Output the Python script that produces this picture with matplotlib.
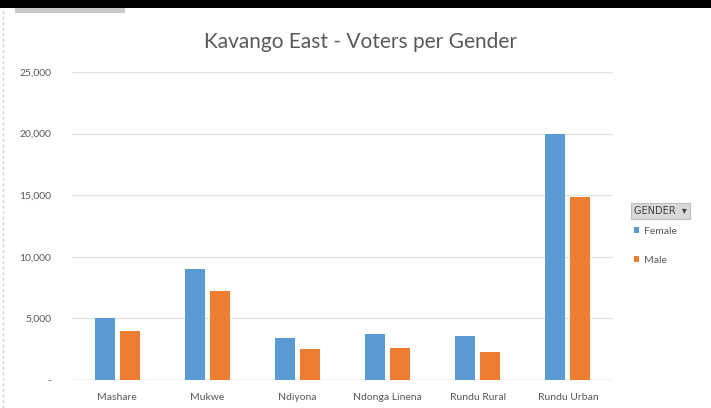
import matplotlib
matplotlib.use("Agg")
import matplotlib.pyplot as plt
import numpy as np
from matplotlib.patches import Rectangle

categories = ["Mashare", "Mukwe", "Ndiyona", "Ndonga Linena", "Rundu Rural", "Rundu Urban"]
female = [5050, 9050, 3430, 3750, 3570, 19950]
male = [3970, 7210, 2490, 2620, 2290, 14850]
yticks = [0, 5000, 10000, 15000, 20000, 25000]
ytick_labels = ["-", "5,000", "10,000", "15,000", "20,000", "25,000"]

plt.rcParams['font.family'] = ['Lato', 'DejaVu Sans']

fig = plt.figure(figsize=(7.11, 4.08), dpi=100)
ax = fig.add_axes([72/711, 28/408, 541/711, 308/408])

x = np.arange(len(categories))
w = 0.222
off = 0.139
b1 = ax.bar(x - off, female, width=w, color="#5B9BD5", label="Female", zorder=3)
b2 = ax.bar(x + off, male, width=w, color="#ED7D31", label="Male", zorder=3)

ax.set_xlim(-0.5, len(categories) - 0.5)
ax.set_ylim(0, 25000)
ax.set_yticks(yticks)
ax.set_yticklabels(ytick_labels)
ax.set_xticks(x)
ax.set_xticklabels(categories)
ax.tick_params(axis='both', length=0, labelsize=7.5, colors="#595959")
ax.tick_params(axis='y', pad=15)
ax.tick_params(axis='x', pad=9)
ax.grid(axis='y', color="#E3E3E3", linewidth=1, zorder=0)
for s in ax.spines.values():
    s.set_visible(False)
ax.axhline(0, color="#D9D9D9", linewidth=1, zorder=2)

fig.text(361/711, 1 - 42/408, "Kavango East - Voters per Gender", ha="center", va="center",
         fontsize=15, color="#595959")

# legend header
fig.text(634/711, 1 - 211/408, "GENDER  \u25BE", ha="left", va="center", fontsize=7,
         color="#404040", family=['DejaVu Sans'],
         bbox=dict(boxstyle="square,pad=0.3", facecolor="#D9D9D9", edgecolor="#BFBFBF", linewidth=0.8))
leg = ax.legend(handles=[b1, b2], labels=["Female", "Male"], loc="upper left",
                bbox_to_anchor=(630/711, 1 - 223/408), bbox_transform=fig.transFigure,
                frameon=False, fontsize=7.5, handlelength=0.5, handleheight=0.5,
                handletextpad=0.4, labelspacing=1.9, borderaxespad=0)
for t in leg.get_texts():
    t.set_color("#595959")

# top window bar decorations
fig.patches.append(Rectangle((0, 1 - 8/408), 1, 8/408, transform=fig.transFigure,
                             facecolor="black", edgecolor="none"))
fig.patches.append(Rectangle((15/711, 1 - 13/408), 110/711, 5/408, transform=fig.transFigure,
                             facecolor="#C8C8C8", edgecolor="none"))
fig.add_artist(plt.Line2D([3/711, 3/711], [0, 1 - 8/408], transform=fig.transFigure,
                          color="#C5D0DC", linewidth=1, linestyle=(0, (2, 2))))

fig.savefig("out.png", dpi=100)
